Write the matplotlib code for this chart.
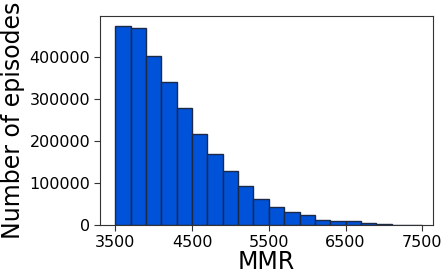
import numpy as np
import matplotlib.pyplot as plt

# histogram counts (bins of 200 MMR, 3500..7500)
bin_edges = np.arange(3500, 7501, 200)
counts = [473000, 469000, 402000, 340000, 279000, 215000, 168000, 127000,
          93500, 62000, 42000, 31500, 23800, 12700, 10300, 10300,
          5500, 1600, 800, 300]
xticks = [3500, 4500, 5500, 6500, 7500]

fig = plt.figure(figsize=(4.42, 2.74), dpi=100)
ax = fig.add_axes([0.226, 0.179, 0.754, 0.763])

ax.hist(bin_edges[:-1], bins=bin_edges, weights=counts,
        color='#0052d9', edgecolor='#1c2a48', linewidth=1.0)

ax.set_xlim(3300, 7640)
ax.set_xticks(xticks)
ax.tick_params(labelsize=11.5, length=4, pad=3, color='#333333')
for s in ax.spines.values():
    s.set_color('#333333')
ax.set_xlabel("MMR", fontsize=17, labelpad=0)
ax.set_ylabel("Number of episodes", fontsize=17, labelpad=3)

fig.savefig("out.png", dpi=100)
